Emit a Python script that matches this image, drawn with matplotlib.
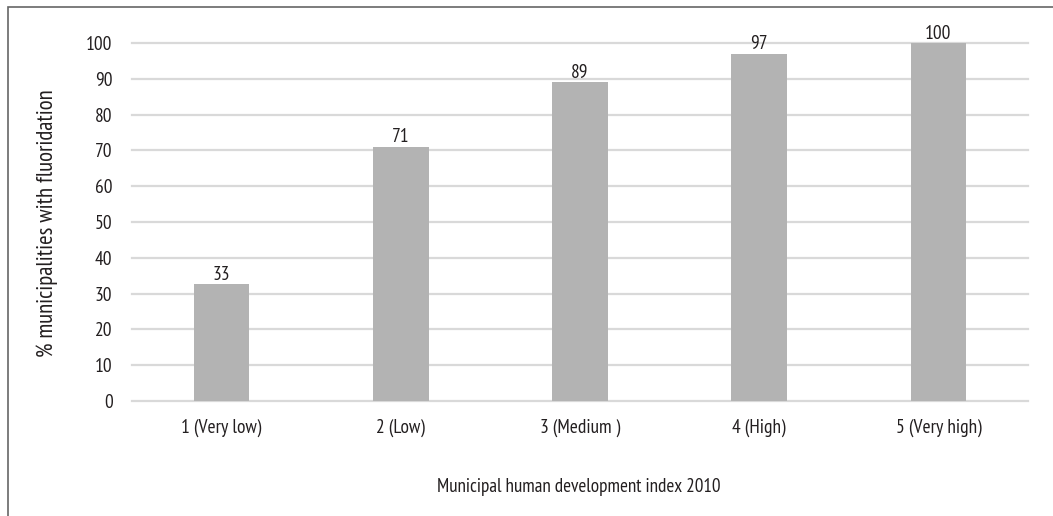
import matplotlib
matplotlib.use("Agg")
import matplotlib.pyplot as plt
from matplotlib.patches import Rectangle

categories = ["1 (Very low)", "2 (Low)", "3 (Medium )", "4 (High)", "5 (Very high)"]
values = [32.6, 71, 89, 97, 100]
yticks = [0, 10, 20, 30, 40, 50, 60, 70, 80, 90, 100]
xlabel = "Municipal human development index 2010"
ylabel = "% municipalities with fluoridation"

plt.rcParams['font.family'] = ['PT Sans Narrow', 'DejaVu Sans']
txt = '#231f20'
W, H = 1053, 516

fig = plt.figure(figsize=(W/100, H/100), dpi=100)
ax = fig.add_axes([132/W, 1-401/H, (1028-132)/W, (401-43)/H])

x = list(range(len(categories)))
ax.bar(x, values, width=0.31, color='#b3b3b3', zorder=3)

ax.set_xlim(-0.5, len(categories) - 0.5)
ax.set_ylim(0, 100)
ax.set_yticks(yticks)
ax.set_xticks(x)
ax.set_xticklabels(categories)
ax.yaxis.grid(True, color='#d9d9d9', linewidth=1.6, zorder=0)
ax.set_axisbelow(True)
for gl in ax.get_ygridlines():
    gl.set_clip_on(False)
for s in ax.spines.values():
    s.set_visible(False)

# calibrate font size so that "1 (Very low)" is ~80 px wide
renderer = fig.canvas.get_renderer()
probe = fig.text(0, 0, categories[0], fontsize=10)
w10 = probe.get_window_extent(renderer).width
probe.remove()
fs = 10 * 80 / w10

probe = fig.text(0, 0, xlabel, fontsize=10)
fsx = 10 * 285 / probe.get_window_extent(renderer).width
probe.remove()
probe = fig.text(0, 0, ylabel, fontsize=10)
fsy = 10 * 267 / probe.get_window_extent(renderer).width
probe.remove()

ax.tick_params(axis='both', length=0, labelsize=fs, colors=txt)
ax.tick_params(axis='y', pad=14)
ax.tick_params(axis='x', pad=13)

for xi, v in zip(x, values):
    ax.annotate(f"{round(v):d}", (xi, v), xytext=(0, 3.2), textcoords='offset points',
                ha='center', va='baseline', fontsize=fs, color=txt, zorder=4)

fig.text(47/W, 1-223.5/H, ylabel, rotation=90,
         ha='center', va='center', fontsize=fsy, color=txt)
fig.text(579/W, 1-492/H, xlabel,
         ha='center', va='baseline', fontsize=fsx, color=txt)

fig.patches.append(Rectangle((8.3/W, -0.05), 1.2, 1.05 - 7.3/H, transform=fig.transFigure,
                             fill=False, edgecolor='#666666', linewidth=1.2))

fig.savefig("out.png", dpi=100)
